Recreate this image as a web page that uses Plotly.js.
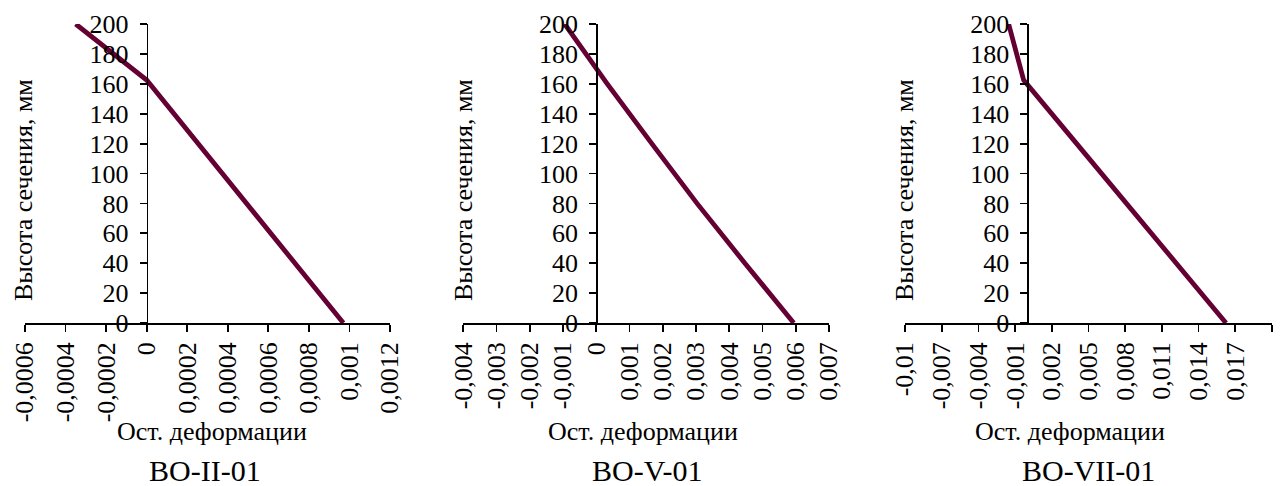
<!DOCTYPE html>
<html>
<head>
<meta charset="utf-8">
<script src="https://cdn.plot.ly/plotly-3.0.1.min.js"></script>
<style>
  html, body { margin: 0; padding: 0; background: #fff; }
  #chart { width: 1285px; height: 486px; }
</style>
</head>
<body>
<div id="chart"></div>
<script>
// Residual strain profiles over the section height for three specimens
const specimenNames = ['BO-II-01', 'BO-V-01', 'BO-VII-01'];

// BO-II-01
const heightII = [200, 177, 162.5, 0];
const strainII = [-0.00035, -0.00014, 0.0, 0.00097];
const tickValsII = [-0.0006, -0.0004, -0.0002, 0, 0.0002, 0.0004, 0.0006, 0.0008, 0.001, 0.0012];
const tickTextII = ['-0,0006', '-0,0004', '-0,0002', '0', '0,0002', '0,0004', '0,0006', '0,0008', '0,001', '0,0012'];

// BO-V-01
const heightV = [200, 160, 120, 80, 40, 0];
const strainV = [-0.00095, 0.00033, 0.00167, 0.00303, 0.00447, 0.00594];
const tickValsV = [-0.004, -0.003, -0.002, -0.001, 0, 0.001, 0.002, 0.003, 0.004, 0.005, 0.006, 0.007];
const tickTextV = ['-0,004', '-0,003', '-0,002', '-0,001', '0', '0,001', '0,002', '0,003', '0,004', '0,005', '0,006', '0,007'];

// BO-VII-01
const heightVII = [200, 162.5, 120, 80, 40, 0];
const strainVII = [-0.00153, -0.0003, 0.00403, 0.0081, 0.01217, 0.01624];
const tickValsVII = [-0.01, -0.007, -0.004, -0.001, 0.002, 0.005, 0.008, 0.011, 0.014, 0.017, 0.02];
const tickTextVII = ['-0,01', '-0,007', '-0,004', '-0,001', '0,002', '0,005', '0,008', '0,011', '0,014', '0,017', '0,02'];

const yTitle = 'Высота сечения, мм';
const xTitle = 'Ост. деформации';

// page geometry (pixels) -> paper fractions
const W = 1285, H = 486;
const fx = p => p / W;
const fy = p => 1 - p / H;

const LINE_COLOR = '#650033';
const serif = size => ({ family: 'Liberation Serif', size: size, color: '#000000' });

const panels = [
  { h: heightII,  s: strainII,  tv: tickValsII,  tt: tickTextII,  range: [-0.0006, 0.0012], left: 25,    right: 390,  yTitleX: 23,  xTitleX: 212,   nameX: 205 },
  { h: heightV,   s: strainV,   tv: tickValsV,   tt: tickTextV,   range: [-0.004, 0.007],   left: 463.3, right: 829,  yTitleX: 463, xTitleX: 642.5, nameX: 647 },
  { h: heightVII, s: strainVII, tv: tickValsVII, tt: tickTextVII, range: [-0.01, 0.02],     left: 905,   right: 1272, yTitleX: 904, xTitleX: 1069.5, nameX: 1088 }
];

const plotTop = 24, plotBottom = 323;

const data = [];
const layout = {
  width: W, height: H,
  margin: { l: 0, r: 0, t: 0, b: 0 },
  showlegend: false,
  annotations: []
};

panels.forEach((p, i) => {
  const n = i === 0 ? '' : String(i + 1);
  data.push({
    type: 'scatter', mode: 'lines',
    x: p.s, y: p.h,
    xaxis: 'x' + n, yaxis: 'y' + n,
    line: { color: LINE_COLOR, width: 4.8 },
    hoverinfo: 'skip'
  });

  const d0 = fx(p.left), d1 = fx(p.right);
  const zeroPos = d0 + (0 - p.range[0]) / (p.range[1] - p.range[0]) * (d1 - d0);

  layout['xaxis' + n] = {
    domain: [d0, d1],
    range: p.range,
    anchor: 'y' + n,
    tickmode: 'array', tickvals: p.tv, ticktext: p.tt,
    tickangle: -90,
    ticks: 'outside', ticklen: 7, tickwidth: 1.8, tickcolor: '#000',
    showline: true, linecolor: '#000', linewidth: 1.8,
    showgrid: false, zeroline: false,
    tickfont: serif(26)
  };
  layout['yaxis' + n] = {
    domain: [fy(plotBottom), fy(plotTop)],
    range: [0, 200],
    anchor: 'free', position: zeroPos,
    tickmode: 'linear', tick0: 0, dtick: 20,
    ticks: 'outside', ticklen: 7, tickwidth: 1.8, tickcolor: '#000',
    ticklabelstandoff: 6,
    showline: true, linecolor: '#000', linewidth: 1.8,
    showgrid: false, zeroline: false,
    tickfont: serif(26)
  };

  // axis titles and specimen name
  layout.annotations.push({
    xref: 'paper', yref: 'paper', x: fx(p.yTitleX), y: fy(190),
    xanchor: 'center', yanchor: 'middle', textangle: -90, showarrow: false,
    text: yTitle, font: serif(26)
  });
  layout.annotations.push({
    xref: 'paper', yref: 'paper', x: fx(p.xTitleX), y: fy(431),
    xanchor: 'center', yanchor: 'middle', showarrow: false,
    text: xTitle, font: serif(26)
  });
  layout.annotations.push({
    xref: 'paper', yref: 'paper', x: fx(p.nameX), y: fy(470),
    xanchor: 'center', yanchor: 'middle', showarrow: false,
    text: specimenNames[i], font: serif(30)
  });
});

Plotly.newPlot('chart', data, layout, { staticPlot: true });
</script>
</body>
</html>
